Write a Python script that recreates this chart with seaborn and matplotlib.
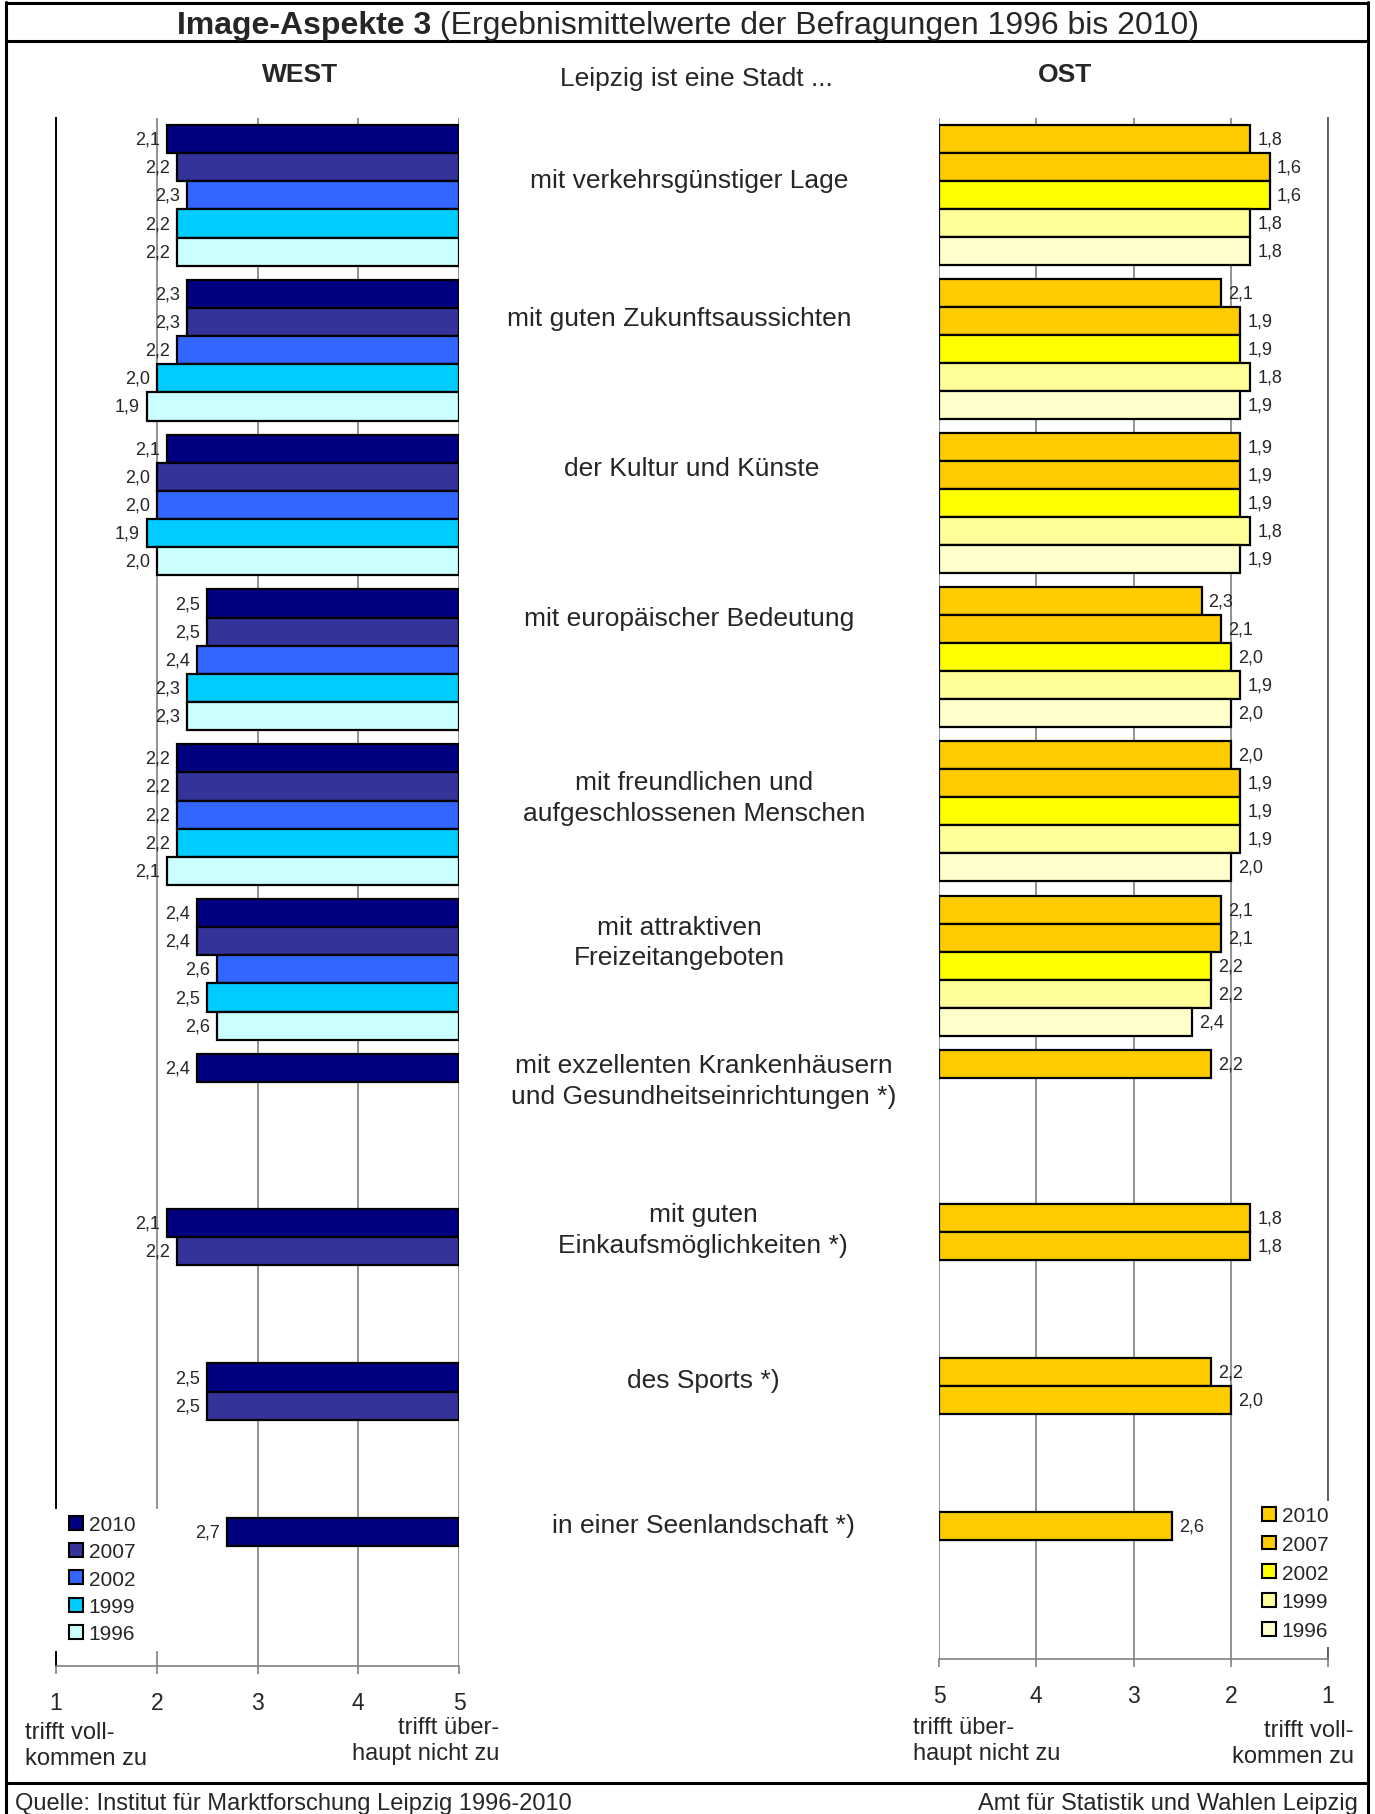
import matplotlib.pyplot as plt
import numpy as np
import pandas as pd
import seaborn as sns
from matplotlib import transforms
from matplotlib.lines import Line2D
from matplotlib.patches import Patch, Rectangle

# --- data ---
aspects = [
    "mit verkehrsgünstiger Lage",
    "mit guten Zukunftsaussichten",
    "der Kultur und Künste",
    "mit europäischer Bedeutung",
    "mit freundlichen und\naufgeschlossenen Menschen",
    "mit attraktiven\nFreizeitangeboten",
    "mit exzellenten Krankenhäusern\nund Gesundheitseinrichtungen *)",
    "mit guten\nEinkaufsmöglichkeiten *)",
    "des Sports *)",
    "in einer Seenlandschaft *)",
]
years = ["2010", "2007", "2002", "1999", "1996"]
nan = np.nan

west_2010 = [2.1, 2.3, 2.1, 2.5, 2.2, 2.4, 2.4, 2.1, 2.5, 2.7]
west_2007 = [2.2, 2.3, 2.0, 2.5, 2.2, 2.4, nan, 2.2, 2.5, nan]
west_2002 = [2.3, 2.2, 2.0, 2.4, 2.2, 2.6, nan, nan, nan, nan]
west_1999 = [2.2, 2.0, 1.9, 2.3, 2.2, 2.5, nan, nan, nan, nan]
west_1996 = [2.2, 1.9, 2.0, 2.3, 2.1, 2.6, nan, nan, nan, nan]

ost_2010 = [1.8, 2.1, 1.9, 2.3, 2.0, 2.1, 2.2, 1.8, 2.2, 2.6]
ost_2007 = [1.6, 1.9, 1.9, 2.1, 1.9, 2.1, nan, 1.8, 2.0, nan]
ost_2002 = [1.6, 1.9, 1.9, 2.0, 1.9, 2.2, nan, nan, nan, nan]
ost_1999 = [1.8, 1.8, 1.8, 1.9, 1.9, 2.2, nan, nan, nan, nan]
ost_1996 = [1.8, 1.9, 1.9, 2.0, 2.0, 2.4, nan, nan, nan, nan]

west_colors = ["#000080", "#333399", "#3366FF", "#00CCFF", "#CCFFFF"]
ost_colors = ["#FFCC00", "#FFCC00", "#FFFF00", "#FFFF99", "#FFFFCC"]

# label placement (offset in bar rows from first bar, x centre in px)
label_offsets = [1.44, 0.86, 0.7, 0.53, 1.4, 1.03, 0.45, 0.25, 0.08, -0.25]
label_x = [689, 679, 692, 689, 694, 679, 704, 703, 703, 703]


def to_long(series):
    rows = []
    for year, vals in zip(years, series):
        for asp, v in zip(aspects, vals):
            if not np.isnan(v):
                rows.append({"Aspekt": asp, "Jahr": year, "Wert": v})
    df = pd.DataFrame(rows)
    df["Abstand"] = 5 - df["Wert"]   # bars run from 5 towards the value
    return df


df_west = to_long([west_2010, west_2007, west_2002, west_1999, west_1996])
df_ost = to_long([ost_2010, ost_2007, ost_2002, ost_1999, ost_1996])

sns.set_style("white")
plt.rcParams["font.family"] = ["Liberation Sans", "DejaVu Sans"]

W, H = 1375, 1815
fig = plt.figure(figsize=(W / 100, H / 100), dpi=100)


def fx(px):
    return px / W


def fy(py):
    return 1 - py / H


ax_w = fig.add_axes([fx(56), fy(1667), (459 - 56) / W, (1667 - 119) / H])
ax_o = fig.add_axes([fx(939), fy(1660), (1328 - 939) / W, (1660 - 119) / H])


def draw_panel(ax, df, colors, inverted):
    ax.set_axisbelow(True)
    sns.barplot(data=df, x="Abstand", y="Aspekt", hue="Jahr", order=aspects,
                hue_order=years, palette=colors, orient="h", width=5 / 5.5,
                edgecolor="black", linewidth=1.6, errorbar=None, legend=False,
                saturation=1, ax=ax)
    ax.set_ylim(9.5, -0.5)
    ax.set_xlim((4, 0) if inverted else (0, 4))
    ax.set_xticks(range(5))
    ax.set_xticklabels(["5", "4", "3", "2", "1"])
    ax.set_yticks([])
    ax.set_xlabel("")
    ax.set_ylabel("")
    ax.xaxis.grid(True, color="#808080", linewidth=1.2)
    ax.yaxis.grid(False)
    ax.tick_params(axis="x", bottom=True, direction="out", length=6, width=1.2,
                   color="#808080", pad=12, labelsize=16.5)
    ax.spines["top"].set_visible(False)
    ax.spines["bottom"].set_color("#808080")
    ax.spines["bottom"].set_linewidth(1.2)
    if inverted:
        ax.spines["right"].set_visible(False)
        ax.spines["left"].set_color("black")
        ax.spines["left"].set_linewidth(1.4)
    else:
        ax.spines["left"].set_visible(False)
        ax.spines["right"].set_color("#606060")
        ax.spines["right"].set_linewidth(1.4)
    for c in ax.containers:
        ax.bar_label(c, labels=[f"{5 - w:.1f}".replace(".", ",") for w in c.datavalues],
                     padding=5, fontsize=13)


draw_panel(ax_w, df_west, west_colors, True)
draw_panel(ax_o, df_ost, ost_colors, False)

# centre labels
trans = transforms.blended_transform_factory(fig.transFigure, ax_w.transData)
slot = 1 / 5.5
for k, (txt, off, xc) in enumerate(zip(aspects, label_offsets, label_x)):
    y = k - 0.5 * (5 / 5.5) + 0.5 * slot + off * slot
    fig.text(fx(xc), y, txt, transform=trans, ha="center", va="center",
             multialignment="center", fontsize=19, linespacing=1.35)

# headers
fig.text(fx(431), fy(34), "Image-Aspekte 3", ha="right", va="baseline",
         fontsize=23, fontweight="bold")
fig.text(fx(431), fy(34), " (Ergebnismittelwerte der Befragungen 1996 bis 2010)",
         ha="left", va="baseline", fontsize=23)
fig.text(fx(300), fy(75), "WEST", ha="center", va="center", fontsize=19, fontweight="bold")
fig.text(fx(696), fy(79), "Leipzig ist eine Stadt ...", ha="center", va="center", fontsize=19)
fig.text(fx(1065), fy(75), "OST", ha="center", va="center", fontsize=19, fontweight="bold")

# scale end texts
end_kw = dict(va="center", fontsize=17, linespacing=1.25)
fig.text(fx(25), fy(1746), "trifft voll-\nkommen zu", ha="left", **end_kw)
fig.text(fx(499), fy(1741), "trifft über-\nhaupt nicht zu", ha="right",
         multialignment="right", **end_kw)
fig.text(fx(913), fy(1741), "trifft über-\nhaupt nicht zu", ha="left", **end_kw)
fig.text(fx(1354), fy(1744), "trifft voll-\nkommen zu", ha="right",
         multialignment="right", **end_kw)

# footer
fig.text(fx(15), fy(1804), "Quelle: Institut für Marktforschung Leipzig 1996-2010",
         ha="left", va="center", fontsize=17)
fig.text(fx(1358), fy(1804), "Amt für Statistik und Wahlen Leipzig",
         ha="right", va="center", fontsize=17)

# white boxes behind the legends
fig.add_artist(Rectangle((fx(44), fy(1652)), 126 / W, 142 / H, transform=fig.transFigure,
                         facecolor="white", edgecolor="none", zorder=1))
fig.add_artist(Rectangle((fx(1250), fy(1648)), 95 / W, 146 / H, transform=fig.transFigure,
                         facecolor="white", edgecolor="none", zorder=1))

leg_kw = dict(frameon=False, fontsize=15, borderpad=0, borderaxespad=0,
              handlelength=0.65, handleheight=0.65, handletextpad=0.3,
              loc="upper left")
fig.legend(handles=[Patch(facecolor=c, edgecolor="black", linewidth=1.5, label=y)
                    for c, y in zip(west_colors, years)],
           bbox_to_anchor=(fx(69), fy(1516)), labelspacing=0.4, **leg_kw)
fig.legend(handles=[Patch(facecolor=c, edgecolor="black", linewidth=1.5, label=y)
                    for c, y in zip(ost_colors, years)],
           bbox_to_anchor=(fx(1262), fy(1507)), labelspacing=0.47, **leg_kw)

# frame lines
for xs, ys in [([6, 6], [3, H]), ([1368, 1368], [3, H]),
               ([6, 1368], [4, 4]), ([6, 1368], [42, 42]), ([6, 1368], [1784, 1784])]:
    fig.add_artist(Line2D([fx(x) for x in xs], [fy(y) for y in ys], color="black",
                          linewidth=2.2, transform=fig.transFigure))

fig.savefig("out.png", dpi=100)
